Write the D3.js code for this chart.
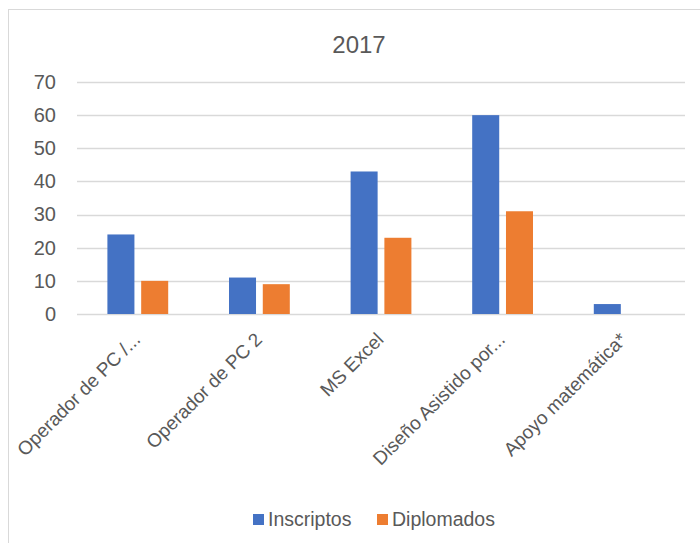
<!DOCTYPE html>
<html lang="es">
<head>
<meta charset="utf-8">
<title>2017</title>
<script src="https://cdnjs.cloudflare.com/ajax/libs/d3/7.8.5/d3.min.js"></script>
<style>
    body { margin: 0; background: #fff; }
    text { font-family: "Liberation Sans", Arial, sans-serif; fill: #595959; }
</style>
</head>
<body>
<div id="chart"></div>
<script>
    // datos
    var categories = ["Operador de PC /...", "Operador de PC 2", "MS Excel", "Diseño Asistido por...", "Apoyo matemática*"];
    var seriesNames = ["Inscriptos", "Diplomados"];
    var inscriptos = [24, 11, 43, 60, 3];
    var diplomados = [10, 9, 23, 31, 0];
    var yTicks = [0, 10, 20, 30, 40, 50, 60, 70];
    var colors = ["#4472C4", "#ED7D31"];

    var W = 700, H = 543;
    var plot = {left: 77, right: 685, top: 82, bottom: 314};

    var svg = d3.select("#chart").append("svg")
        .attr("width", W).attr("height", H);

    // marco
    svg.append("rect")
        .attr("x", 8.5).attr("y", 9.5)
        .attr("width", 720).attr("height", 560)
        .attr("fill", "#fff")
        .attr("stroke", "#d9d9d9");

    var x0 = d3.scaleBand()
        .domain(categories)
        .range([plot.left, plot.right])
        .paddingInner(0.5)
        .paddingOuter(0.25);

    var x1 = d3.scaleBand()
        .domain(seriesNames)
        .range([0, x0.bandwidth()])
        .paddingInner(0.2);

    var y = d3.scaleLinear()
        .domain([0, 70])
        .range([plot.bottom, plot.top]);

    // lineas de cuadricula
    svg.append("g").selectAll("line")
        .data(yTicks)
        .enter().append("line")
        .attr("x1", plot.left).attr("x2", plot.right)
        .attr("y1", function(d) { return Math.round(y(d)) + 0.5; })
        .attr("y2", function(d) { return Math.round(y(d)) + 0.5; })
        .attr("stroke", "#d9d9d9")
        .attr("stroke-width", 1.3);

    // eje y
    var yAxis = svg.append("g")
        .attr("transform", "translate(" + (plot.left - 21) + ",0)")
        .call(d3.axisLeft(y).tickValues(yTicks).tickSize(0).tickPadding(0));
    yAxis.select(".domain").remove();
    yAxis.selectAll("text")
        .attr("font-size", 20)
        .style("font-family", "'Liberation Sans', Arial, sans-serif")
        .attr("fill", "#595959");

    // barras
    var rows = categories.map(function(c, i) {
        return { cat: c, values: [inscriptos[i], diplomados[i]] };
    });

    var groups = svg.append("g").selectAll("g")
        .data(rows)
        .enter().append("g")
        .attr("transform", function(d) { return "translate(" + x0(d.cat) + ",0)"; });

    groups.selectAll("rect")
        .data(function(d) {
            return d.values.map(function(v, j) { return { name: seriesNames[j], value: v, color: colors[j] }; });
        })
        .enter().append("rect")
        .filter(function(d) { return d.value > 0; })
        .attr("x", function(d) { return x1(d.name); })
        .attr("y", function(d) { return y(d.value); })
        .attr("width", x1.bandwidth())
        .attr("height", function(d) { return plot.bottom - y(d.value); })
        .attr("fill", function(d) { return d.color; });

    // etiquetas del eje x
    svg.append("g").selectAll("text")
        .data(categories)
        .enter().append("text")
        .attr("transform", function(d) {
            var cx = x0(d) + x0.bandwidth() / 2;
            return "translate(" + (cx - 1) + ",336) rotate(-45)";
        })
        .attr("text-anchor", "end")
        .attr("dy", "0.35em")
        .attr("font-size", 19)
        .text(function(d) { return d; });

    // titulo
    svg.append("text")
        .attr("x", 359).attr("y", 53)
        .attr("text-anchor", "middle")
        .attr("font-size", 24)
        .text("2017");

    // leyenda
    var legendX = [253, 377];
    var legend = svg.append("g").selectAll("g")
        .data(seriesNames)
        .enter().append("g")
        .attr("transform", function(d, i) { return "translate(" + legendX[i] + ",514)"; });
    legend.append("rect")
        .attr("width", 11).attr("height", 11)
        .attr("fill", function(d, i) { return colors[i]; });
    legend.append("text")
        .attr("x", 15).attr("y", 12)
        .attr("font-size", 19.5)
        .text(function(d) { return d; });
</script>
</body>
</html>
